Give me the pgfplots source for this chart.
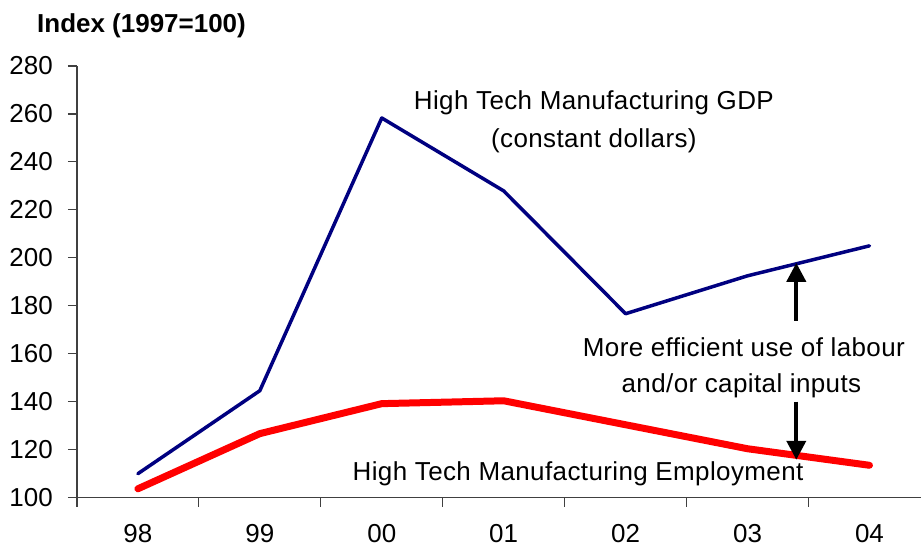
\documentclass[border=0pt]{standalone}
\usepackage{fontspec}
\setmainfont{Liberation Sans}
\usepackage{pgfplots}
\pgfplotsset{compat=1.18}
\usetikzlibrary{arrows.meta}
\definecolor{gdpblue}{RGB}{0,0,128}
\definecolor{empred}{RGB}{255,0,0}
\begin{document}
\fontsize{26}{31}\selectfont
\begin{tikzpicture}
\begin{axis}[
 scale only axis, width=845pt, height=432pt,
 xmin=-0.5, xmax=6.426, ymin=100, ymax=280,
 axis x line=bottom, axis y line=left,
 axis line style={-, black!75, line width=1.2pt},
 xtick={-0.5,0.5,1.5,2.5,3.5,4.5,5.5},
 xticklabels={{},{},{},{},{},{},{}},
 extra x ticks={0,1,2,3,4,5,6},
 extra x tick labels={98,99,00,01,02,03,04},
 extra x tick style={major tick length=0pt, tick style={draw=none}},
 ytick={100,120,...,280},
 tick align=outside,
 tick style={black!75, line width=1.2pt},
 major tick length=9pt,
 ticklabel style={font=\fontsize{26}{31}\selectfont, inner sep=0pt},
 xticklabel style={anchor=north, yshift=-27pt},
 yticklabel style={anchor=east, xshift=-15pt},
 /pgf/number format/assume math mode=true,
 clip=false,
]
\addplot[gdpblue, line width=3.5pt, line cap=round, line join=round]
 coordinates {(0,110) (1,144.6) (2,258.3) (3,227.9) (4,176.7) (5,192.5) (6,205)};
\addplot[empred, line width=7pt, line cap=round, line join=round]
 coordinates {(0,103.7) (1,126.7) (2,139.2) (3,140.4) (4,130.4) (5,120.4) (6,113.5)};
\draw[black, line width=4pt, -{Triangle[width=19pt,length=19pt]}] (axis cs:5.40,173.75) -- (axis cs:5.40,197.9);
\draw[black, line width=4pt, -{Triangle[width=19pt,length=19pt]}] (axis cs:5.40,140) -- (axis cs:5.40,115.8);
\node[anchor=base, font=\addfontfeatures{LetterSpace=1.5}] at (axis cs:3.74,261.7) {High Tech Manufacturing GDP};
\node[anchor=base, font=\addfontfeatures{LetterSpace=1.5}] at (axis cs:3.74,245.96) {(constant dollars)};
\node[anchor=base, font=\addfontfeatures{LetterSpace=1.5}] at (axis cs:3.61,107.1) {High Tech Manufacturing Employment};
\node[anchor=base, font=\addfontfeatures{LetterSpace=1.5}] at (axis cs:4.97,158.75) {More efficient use of labour};
\node[anchor=base, font=\addfontfeatures{LetterSpace=1.5}] at (axis cs:4.95,143.75) {and/or capital inputs};
\node[anchor=base west, inner sep=0pt, font=\bfseries, xshift=-40pt, yshift=33pt] at (rel axis cs:0,1) {Index (1997=100)};
\path (rel axis cs:0,0) ++(-77pt,-50pt) rectangle ++(922pt,548pt);
\end{axis}
\end{tikzpicture}
\end{document}
